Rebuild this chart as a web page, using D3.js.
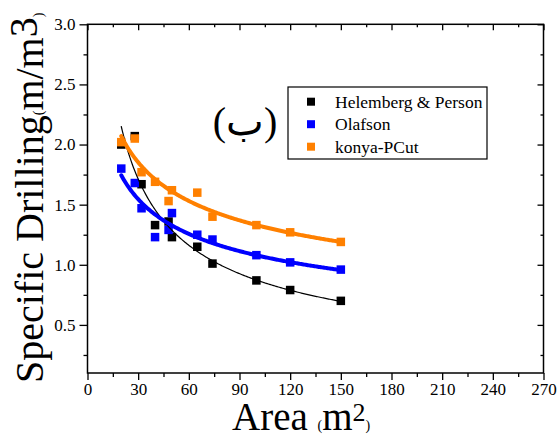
<!DOCTYPE html>
<html><head><meta charset="utf-8">
<script src="https://cdn.jsdelivr.net/npm/d3@7"></script>
<style>body{margin:0;background:#fff}svg{display:block}</style>
</head><body>
<svg id="c" width="559" height="437"></svg>
<script>
// ---- data ----
const areas = [20, 28, 32, 40, 48, 50, 65, 74, 100, 120, 150];
const helemberg = [2.00, 2.07, 1.67, 1.33, 1.36, 1.23, 1.15, 1.01, 0.87, 0.79, 0.70];
const olafson   = [1.80, 1.68, 1.47, 1.23, 1.29, 1.43, 1.25, 1.21, 1.08, 1.02, 0.96];
const konya     = [2.02, 2.05, 1.77, 1.69, 1.53, 1.62, 1.60, 1.40, 1.33, 1.27, 1.19];
const seriesNames = ["Helemberg & Person", "Olafson", "konya-PCut"];
const xTicks = [0, 30, 60, 90, 120, 150, 180, 210, 240, 270];
const xMinor = [15, 45, 75, 105, 135, 165, 195, 225, 255];
const yTicks = [0.5, 1.0, 1.5, 2.0, 2.5, 3.0];
const yMinor = [0.25, 0.75, 1.25, 1.75, 2.25, 2.75];

const colors = ["#000000", "#0000ff", "#ff8000"];
const widths = [1.2, 4, 4];
const seriesValues = [helemberg, olafson, konya];

const FONT = '"Liberation Serif","Times New Roman",serif';
const svg = d3.select("#c");
const L = 87.5, R = 543.5, T = 24.3, B = 373;
const x = d3.scaleLinear().domain([0, 270]).range([L, R]);
const y = d3.scaleLinear().domain([0.1, 3.0]).range([B, T]);

// axes
function styleAxis(g){ g.attr("font-family",null).attr("font-size",null);
  g.select(".domain").remove(); g.selectAll("line").attr("stroke","#000").attr("stroke-width",1.3);
  g.selectAll("text").style("font-family",FONT).style("font-size","17px").attr("fill","#000"); }
svg.append("g").attr("transform",`translate(${L},0)`)
  .call(d3.axisLeft(y).tickValues(yTicks).tickSize(8).tickPadding(4).tickFormat(d3.format(".1f"))).call(styleAxis);
svg.append("g").attr("transform",`translate(${L},0)`)
  .call(d3.axisLeft(y).tickValues(yMinor).tickSize(4).tickFormat("")).call(styleAxis);
svg.append("g").attr("transform",`translate(0,${B})`)
  .call(d3.axisBottom(x).tickValues(xTicks).tickSize(7).tickPadding(3).tickFormat(d3.format("d"))).call(styleAxis);
svg.append("g").attr("transform",`translate(0,${B})`)
  .call(d3.axisBottom(x).tickValues(xMinor).tickSize(4).tickFormat("")).call(styleAxis);
svg.append("g").attr("transform",`translate(0,${T})`)
  .call(d3.axisTop(x).tickValues(xTicks).tickSize(-6).tickFormat("")).call(styleAxis);
svg.append("g").attr("transform",`translate(0,${T})`)
  .call(d3.axisTop(x).tickValues(xMinor).tickSize(-3).tickFormat("")).call(styleAxis);
svg.append("g").attr("transform",`translate(${R},0)`)
  .call(d3.axisRight(y).tickValues(yTicks).tickSize(-6).tickFormat("")).call(styleAxis);
svg.append("g").attr("transform",`translate(${R},0)`)
  .call(d3.axisRight(y).tickValues(yMinor).tickSize(-3).tickFormat("")).call(styleAxis);
svg.append("rect").attr("x",L).attr("y",T).attr("width",R-L).attr("height",B-T)
  .attr("fill","none").attr("stroke","#000").attr("stroke-width",1.5);

// points
const MS = 8.5;
seriesValues.forEach((vals, i) => {
  svg.append("g").selectAll("rect").data(areas.map((a, k) => [a, vals[k]])).join("rect")
    .attr("x", d => x(d[0]) - MS/2).attr("y", d => y(d[1]) - MS/2)
    .attr("width", MS).attr("height", MS).attr("fill", colors[i]);
});

// power-law fits (log-log regression of each series)
function powerFit(xs, ys){
  const lx = xs.map(Math.log), ly = ys.map(Math.log);
  const mx = d3.mean(lx), my = d3.mean(ly);
  const b = d3.sum(lx.map((v,k)=>(v-mx)*(ly[k]-my))) / d3.sum(lx.map(v=>(v-mx)*(v-mx)));
  const a = Math.exp(my - b*mx);
  return t => a * Math.pow(t, b);
}
const line = d3.line().x(d => x(d[0])).y(d => y(d[1]));
seriesValues.forEach((vals, i) => {
  const f = powerFit(areas, vals);
  const [x0, x1] = d3.extent(areas);
  const pts = d3.range(0, 201).map(k => { const t = x0 + (x1 - x0) * k / 200; return [t, f(t)]; });
  svg.append("path").attr("d", line(pts)).attr("fill","none")
    .attr("stroke", colors[i]).attr("stroke-width", widths[i]).attr("stroke-linecap","round");
});

// legend
const lg = svg.append("g");
lg.append("rect").attr("x",288).attr("y",87).attr("width",199).attr("height",72)
  .attr("fill","#fff").attr("stroke","#000").attr("stroke-width",1.2);
seriesNames.forEach((n, i) => {
  const cy = 101.7 + i * 22.5;
  lg.append("rect").attr("x",311 - 4).attr("y",cy - 4).attr("width",8).attr("height",8).attr("fill",colors[i]);
  lg.append("text").attr("x",335).attr("y",cy + 5.8).style("font-family",FONT).style("font-size","17.5px")
    .attr("fill","#000").text(n);
});

// panel label
svg.append("text").attr("x",245).attr("y",135).attr("text-anchor","middle")
  .style("font-family",FONT).style("font-size","40px").attr("fill","#000").text("(ب)");

// axis titles
const xt = svg.append("text").attr("x",232).attr("y",430).style("font-family",FONT).attr("fill","#000");
xt.append("tspan").style("font-size","39px").text("Area ");
xt.append("tspan").style("font-size","14px").text("(");
xt.append("tspan").style("font-size","39px").text("m");
xt.append("tspan").style("font-size","26px").attr("dy",-9).text("2");
xt.append("tspan").style("font-size","14px").attr("dy",9).text(")");

const yt = svg.append("text").attr("transform","translate(43,383) rotate(-90)").style("font-family",FONT).attr("fill","#000");
yt.append("tspan").style("font-size","40px").text("Specific Drilling");
yt.append("tspan").style("font-size","14px").text("(");
yt.append("tspan").style("font-size","40px").text("m/m");
yt.append("tspan").style("font-size","40px").attr("dy",-6).text("3");
yt.append("tspan").style("font-size","14px").attr("dy",6).text(")");
</script>
</body></html>
